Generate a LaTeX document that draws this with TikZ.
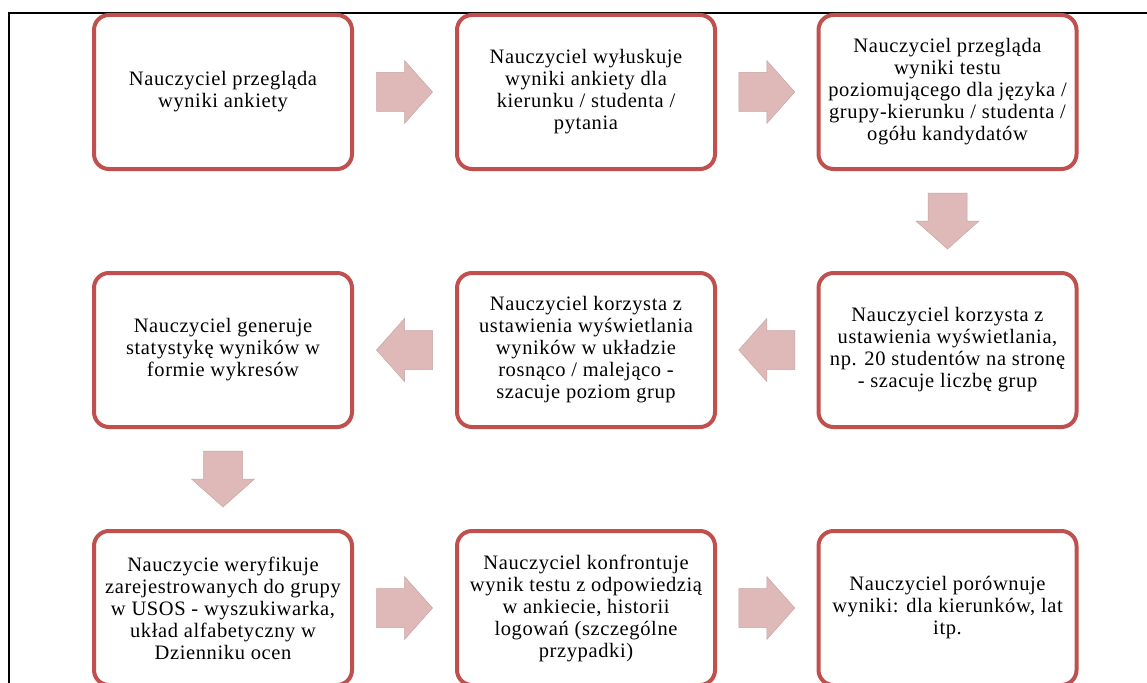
\documentclass[tikz,border=0pt]{standalone}
\usepackage{fontspec}
\setmainfont{Liberation Serif}[LetterSpace=3]
\usetikzlibrary{calc}
\definecolor{boxred}{RGB}{192,80,77}
\definecolor{arrowpink}{RGB}{223,184,184}
\definecolor{arrowedge}{RGB}{200,165,165}
\tikzset{
  stepbox/.style={draw=boxred, line width=4pt, rounded corners=15pt, fill=white,
    minimum width=258pt, minimum height=154pt, align=center, inner sep=2pt,
    font=\fontsize{20.5pt}{22pt}\selectfont, text=black},
  blockarrow/.pic={\path[fill=arrowpink, draw=arrowedge, line width=0.5pt]
    (-28,-19.5) -- (0,-19.5) -- (0,-31.5) -- (28,0) -- (0,31.5) -- (0,19.5) -- (-28,19.5) -- cycle;}
}
\begin{document}
\begin{tikzpicture}[x=1pt, y=-1pt]
\useasboundingbox (0,0) rectangle (1147,682);
\fill[white] (0,0) rectangle (1147,682);
\draw[black, line width=2pt] (1147,13) -- (9,13) -- (9,690);
% row 1
\node[stepbox] (a1) at (223,92) {Nauczyciel przegląda\\wyniki ankiety};
\node[stepbox] (a2) at (586,92) {Nauczyciel wyłuskuje\\wyniki ankiety dla\\kierunku / studenta /\\pytania};
\node[stepbox] (a3) at (947.5,92) {Nauczyciel przegląda\\wyniki testu\\poziomującego dla języka /\\grupy-kierunku / studenta /\\ogółu kandydatów};
% row 2
\node[stepbox] (b3) at (947.5,350) {Nauczyciel korzysta z\\ustawienia wyświetlania,\\np. 20 studentów na stronę\\- szacuje liczbę grup};
\node[stepbox] (b2) at (586,350) {Nauczyciel korzysta z\\ustawienia wyświetlania\\wyników w układzie\\rosnąco / malejąco -\\szacuje poziom grup};
\node[stepbox] (b1) at (223,350) {Nauczyciel generuje\\statystykę wyników w\\formie wykresów};
% row 3
\node[stepbox] (c1) at (223,608) {Nauczycie weryfikuje\\zarejestrowanych do grupy\\w USOS - wyszukiwarka,\\układ alfabetyczny w\\Dzienniku ocen};
\node[stepbox] (c2) at (586,608) {Nauczyciel konfrontuje\\wynik testu z odpowiedzią\\w ankiecie, historii\\logowań (szczególne\\przypadki)};
\node[stepbox] (c3) at (947.5,608) {Nauczyciel porównuje\\wyniki: dla kierunków, lat\\itp.};
% block arrows
\pic at ($(a1.east)!0.5!(a2.west)$) {blockarrow};
\pic at ($(a2.east)!0.5!(a3.west)$) {blockarrow};
\pic[rotate=-90] at ($(a3.south)!0.5!(b3.north)$) {blockarrow};
\pic[rotate=180] at ($(b3.west)!0.5!(b2.east)$) {blockarrow};
\pic[rotate=180] at ($(b2.west)!0.5!(b1.east)$) {blockarrow};
\pic[rotate=-90] at ($(b1.south)!0.5!(c1.north)$) {blockarrow};
\pic at ($(c1.east)!0.5!(c2.west)$) {blockarrow};
\pic at ($(c2.east)!0.5!(c3.west)$) {blockarrow};
\end{tikzpicture}
\end{document}
